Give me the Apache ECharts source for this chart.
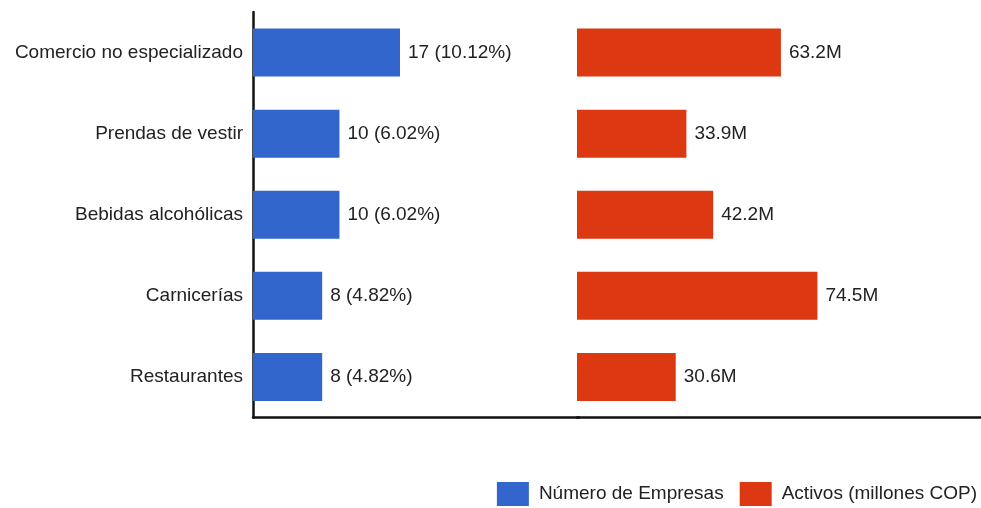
<!DOCTYPE html>
<html>
<head>
<meta charset="utf-8">
<script src="https://cdn.jsdelivr.net/npm/echarts@6/dist/echarts.min.js"></script>
<style>
html,body{margin:0;padding:0;background:#fff;}
#chart{width:981px;height:508px;}
</style>
</head>
<body>
<div id="chart"></div>
<script>
const categories = ['Comercio no especializado', 'Prendas de vestir', 'Bebidas alcohólicas', 'Carnicerías', 'Restaurantes'];
const empresas = [17, 10, 10, 8, 8];
const porcentajes = ['10.12', '6.02', '6.02', '4.82', '4.82'];
const activos = [63.2, 33.9, 42.2, 74.5, 30.6];
const seriesNames = ['Número de Empresas', 'Activos (millones COP)'];

const FONT = "'Liberation Sans', Arial, sans-serif";
const TXT = '#222222';
const AXIS = '#111111';
const chart = echarts.init(document.getElementById('chart'));
chart.setOption({
  animation: false,
  textStyle: { fontFamily: FONT },
  legend: {
    right: 4, top: 482, padding: 0,
    itemWidth: 32, itemHeight: 24, itemGap: 16,
    icon: 'rect',
    textStyle: { fontSize: 19, color: TXT, fontFamily: FONT, padding: [0, 0, 0, 5] },
    data: seriesNames
  },
  grid: [
    { left: 253, width: 326, top: 12, height: 405.5 },
    { left: 577, right: 0, top: 12, height: 405.5 }
  ],
  xAxis: [
    { gridIndex: 0, type: 'value', min: 0, max: 37.7,
      axisLine: { show: true, lineStyle: { color: AXIS, width: 2.5 } },
      axisTick: { show: false }, axisLabel: { show: false }, splitLine: { show: false } },
    { gridIndex: 1, type: 'value', min: 0, max: 125.2,
      axisLine: { show: true, lineStyle: { color: AXIS, width: 2.5 } },
      axisTick: { show: false }, axisLabel: { show: false }, splitLine: { show: false } }
  ],
  yAxis: [
    { gridIndex: 0, type: 'category', data: categories, inverse: true,
      axisLine: { show: true, lineStyle: { color: AXIS, width: 2.5 } },
      axisTick: { show: false },
      axisLabel: { fontSize: 19, color: TXT, margin: 10, fontFamily: FONT } },
    { gridIndex: 1, type: 'category', data: categories, inverse: true, show: false }
  ],
  series: [
    { name: seriesNames[0], type: 'bar', xAxisIndex: 0, yAxisIndex: 0,
      data: empresas, barWidth: 48,
      itemStyle: { color: '#3366CC' },
      label: { show: true, position: 'right', distance: 8, fontSize: 19, color: TXT, fontFamily: FONT,
        formatter: p => p.value + ' (' + porcentajes[p.dataIndex] + '%)' } },
    { name: seriesNames[1], type: 'bar', xAxisIndex: 1, yAxisIndex: 1,
      data: activos, barWidth: 48,
      itemStyle: { color: '#DC3912' },
      label: { show: true, position: 'right', distance: 8, fontSize: 19, color: TXT, fontFamily: FONT,
        formatter: p => p.value + 'M' } }
  ]
});
</script>
</body>
</html>
